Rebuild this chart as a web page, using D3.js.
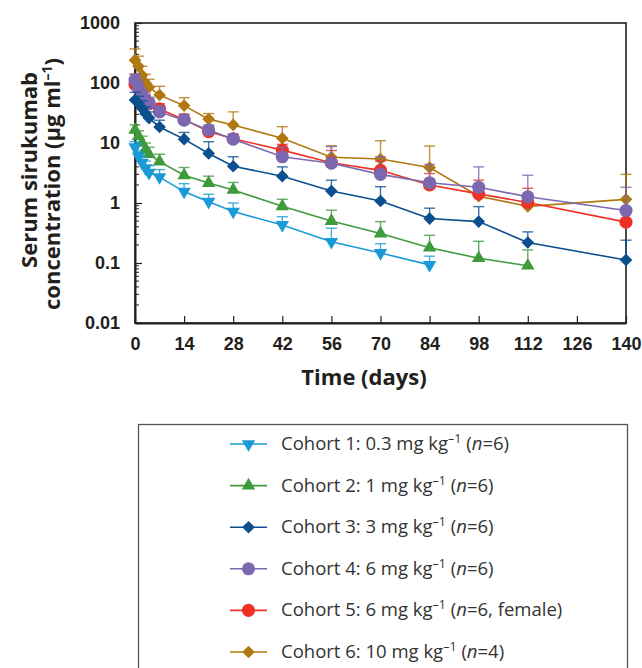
<!DOCTYPE html>
<html>
  <head>
    <meta charset="utf-8">
    <title>Serum sirukumab concentration</title>
    <script src="https://cdn.jsdelivr.net/npm/d3@7"></script>
    <style>
      body { margin: 0; background: #fff; }
      svg { font-family: Lato, "Open Sans", sans-serif; }
      .tick text { font-weight: 700; font-size: 18px; fill: #231f20; }
      .axisTitle { font-family: "Open Sans", sans-serif; font-weight: 700; font-size: 22px; fill: #231f20; }
      .legendText { font-family: "Open Sans", sans-serif; font-size: 18.5px; fill: #333; }
    </style>
  </head>
  <body>
    <svg id="chart" width="642" height="668"></svg>
    <script>
      // sampling days
      var days = [0, 1, 2, 3, 4, 7, 14, 21, 28, 42, 56, 70, 84, 98, 112, 140];
      var xTicks = [0, 14, 28, 42, 56, 70, 84, 98, 112, 126, 140];
      var yTicks = [0.01, 0.1, 1, 10, 100, 1000];
      // mean concentrations (µg/ml), one per day
      var c1Mean = [8.5, 6, 4.7, 3.8, 3.2, 2.7, 1.55, 1.05, 0.72, 0.43, 0.226, 0.147, 0.093];
      var c2Mean = [16.5, 13, 10, 7.8, 6.5, 4.9, 2.9, 2.15, 1.65, 0.88, 0.5, 0.31, 0.18, 0.12, 0.09];
      var c3Mean = [52, 46, 38, 31, 26, 18.5, 11.6, 6.7, 4.1, 2.8, 1.58, 1.08, 0.55, 0.49, 0.22, 0.112];
      var c4Mean = [112, 83, 63, 52, 46, 33, 24, 16.5, 11.6, 5.9, 4.6, 3.0, 2.18, 1.83, 1.27, 0.75];
      var c5Mean = [95, 80, 62, 50, 45, 37, 24.5, 15.5, 11.8, 7.6, 4.7, 3.5, 2.0, 1.42, 1.02, 0.48];
      var c6Mean = [240, 190, 135, 100, 85, 63, 42, 25, 20, 12, 5.8, 5.4, 3.9, 1.3, 0.88, 1.15];
      // mean + SD (upper end of error bar), null = no bar
      var c1Upper = [10.5, 7.5, 6, 5, 4.2, 3.6, 2.1, 1.4, 1.0, 0.59, 0.38, 0.21, 0.13];
      var c2Upper = [20, 16, 13, 10, 8.5, 6.5, 3.9, 2.8, 2.2, 1.15, 0.76, 0.49, 0.29, 0.23, 0.165];
      var c3Upper = [70, 60, 50, 40, 33, 24, 15, 10.5, 5.9, 4.0, 2.4, 1.87, 0.82, 0.87, 0.33, 0.24];
      var c4Upper = [140, 105, 80, 65, 58, 42, 30, 20, 14, 8.5, 8.7, 5.9, 4.4, 4.0, 2.9, 1.83];
      var c5Upper = [140, 100, 78, 62, 55, 45, 30, 19, 14, 9.5, 7.5, 5.0, 3.1, 2.4, 1.76, null];
      var c6Upper = [370, 280, 190, 140, 115, 88, 57, 31, 33, 18.7, 9.0, 10.9, 8.9, null, null, 3.0];
      var cohortNames = ["Cohort 1: 0.3 mg kg", "Cohort 2: 1 mg kg", "Cohort 3: 3 mg kg",
        "Cohort 4: 6 mg kg", "Cohort 5: 6 mg kg", "Cohort 6: 10 mg kg"];
      var cohortN = ["=6)", "=6)", "=6)", "=6)", "=6, female)", "=4)"];
      var colors = ["#1a9bd7", "#3f9a3c", "#0b4f8f", "#7c68b0", "#ee3124", "#b07812"];
      var shapes = ["down", "up", "diamond", "circle", "circle", "diamond"];

      var series = [c1Mean, c2Mean, c3Mean, c4Mean, c5Mean, c6Mean].map(function(m, i) {
        var up = [c1Upper, c2Upper, c3Upper, c4Upper, c5Upper, c6Upper][i];
        return {
          id: i,
          color: colors[i],
          shape: shapes[i],
          points: m.map(function(v, j) { return { day: days[j], value: v, upper: up[j] }; })
        };
      });

      var margin = { top: 23, right: 16, bottom: 345, left: 135 };
      var width = 642, height = 668;
      var chart = d3.select("#chart");

      var x = d3.scaleLinear().domain([0, 140]).range([margin.left, width - margin.right]);
      var y = d3.scaleLog().domain([0.01, 1000]).range([height - margin.bottom, margin.top]);

      function symbolPath(shape) {
        if (shape == "circle") return d3.symbol(d3.symbolCircle, 135)();
        if (shape == "diamond") return d3.symbol(d3.symbolSquare, 80)();
        return d3.symbol(d3.symbolTriangle, 78)();
      }
      function symbolRotate(shape) {
        if (shape == "diamond") return 45;
        if (shape == "down") return 180;
        return 0;
      }

      // frame
      chart.append("rect")
        .attr("x", x(0)).attr("y", y(1000))
        .attr("width", x(140) - x(0)).attr("height", y(0.01) - y(1000))
        .attr("fill", "none").attr("stroke", "#231f20").attr("stroke-width", 1.6);

      // minor y ticks
      var minor = [];
      [0.01, 0.1, 1, 10, 100].forEach(function(d) {
        for (var k = 2; k <= 9; k++) minor.push(d * k);
      });
      chart.append("g").selectAll("line")
        .data(minor)
        .enter().append("line")
          .attr("x1", x(0)).attr("x2", x(0) + 4)
          .attr("y1", function(d) { return y(d); })
          .attr("y2", function(d) { return y(d); })
          .attr("stroke", "#231f20").attr("stroke-width", 1);

      // axes
      var yAxis = d3.axisLeft(y)
        .tickValues(yTicks)
        .tickFormat(function(d) { return d3.format("~g")(d); })
        .tickSizeInner(-7)
        .tickSizeOuter(0)
        .tickPadding(15);
      chart.append("g")
        .attr("transform", "translate(" + x(0) + ",0)")
        .call(yAxis)
        .call(function(g) {
          g.select(".domain").attr("stroke", "#231f20").attr("stroke-width", 2);
          g.selectAll(".tick line").attr("stroke", "#231f20").attr("stroke-width", 1.2);
          g.selectAll(".tick text").attr("fill", "#231f20");
        });
      var xAxis = d3.axisBottom(x)
        .tickValues(xTicks)
        .tickSizeInner(-7)
        .tickSizeOuter(0)
        .tickPadding(14);
      chart.append("g")
        .attr("transform", "translate(0," + y(0.01) + ")")
        .call(xAxis)
        .call(function(g) {
          g.select(".domain").attr("stroke", "#231f20").attr("stroke-width", 2);
          g.selectAll(".tick line").attr("stroke", "#231f20").attr("stroke-width", 1.2);
          g.selectAll(".tick text").attr("fill", "#231f20");
        });

      // axis titles
      chart.append("text")
        .attr("class", "axisTitle")
        .attr("x", 364).attr("y", 385)
        .attr("text-anchor", "middle")
        .text("Time (days)");
      var yTitle = chart.append("text")
        .attr("class", "axisTitle")
        .attr("transform", "translate(37,176) rotate(-90)")
        .attr("text-anchor", "middle");
      yTitle.append("tspan").attr("x", 6).attr("y", 0).text("Serum sirukumab");
      yTitle.append("tspan").attr("x", -8).attr("y", 23).text("concentration (µg ml");
      yTitle.append("tspan").attr("dy", -8).style("font-size", "14px").text("–1");
      yTitle.append("tspan").attr("dy", 8).text(")");

      // series
      var line = d3.line()
        .x(function(d) { return x(d.day); })
        .y(function(d) { return y(d.value); });
      var drawOrder = series.slice().reverse();
      var groups = chart.append("g").selectAll("g")
        .data(drawOrder)
        .enter().append("g");
      groups.append("path")
        .attr("d", function(d) { return line(d.points); })
        .attr("fill", "none")
        .attr("stroke", function(d) { return d.color; })
        .attr("stroke-width", 1.6);
      groups.each(function(s) {
        var g = d3.select(this);
        var bars = s.points.filter(function(p) { return p.upper != null; });
        g.selectAll(".err")
          .data(bars)
          .enter().append("line")
            .attr("x1", function(p) { return x(p.day); })
            .attr("x2", function(p) { return x(p.day); })
            .attr("y1", function(p) { return y(p.value); })
            .attr("y2", function(p) { return y(p.upper); })
            .attr("stroke", s.color).attr("stroke-opacity", 0.8).attr("stroke-width", 1.4);
        g.selectAll(".cap")
          .data(bars)
          .enter().append("line")
            .attr("x1", function(p) { return x(p.day) - 5.5; })
            .attr("x2", function(p) { return x(p.day) + 5.5; })
            .attr("y1", function(p) { return y(p.upper); })
            .attr("y2", function(p) { return y(p.upper); })
            .attr("stroke", s.color).attr("stroke-opacity", 0.8).attr("stroke-width", 1.4);
      });
      groups.each(function(s) {
        d3.select(this).selectAll(".mark")
          .data(s.points)
          .enter().append("path")
            .attr("d", symbolPath(s.shape))
            .attr("transform", function(p) {
              return "translate(" + x(p.day) + "," + y(p.value) + ") rotate(" + symbolRotate(s.shape) + ")";
            })
            .attr("fill", s.color);
      });

      // legend
      var legend = chart.append("g");
      legend.append("rect")
        .attr("x", 138.5).attr("y", 424.5)
        .attr("width", 489).attr("height", 260)
        .attr("fill", "none").attr("stroke", "#555").attr("stroke-width", 1.3);
      var items = legend.selectAll(".item")
        .data(series)
        .enter().append("g")
          .attr("transform", function(d, i) { return "translate(0," + (444 + i * 41.6) + ")"; });
      items.append("line")
        .attr("x1", 230).attr("x2", 267).attr("y1", 0).attr("y2", 0)
        .attr("stroke", function(d) { return d.color; }).attr("stroke-width", 1.6);
      items.append("path")
        .attr("d", function(d) { return symbolPath(d.shape); })
        .attr("transform", function(d) { return "translate(248.5,0) rotate(" + symbolRotate(d.shape) + ")"; })
        .attr("fill", function(d) { return d.color; });
      var labels = items.append("text")
        .attr("class", "legendText")
        .attr("x", 281).attr("y", 6);
      labels.append("tspan").text(function(d, i) { return cohortNames[i]; });
      labels.append("tspan").attr("dy", -7).style("font-size", "12.5px").text("–1");
      labels.append("tspan").attr("dy", 7).text(" (");
      labels.append("tspan").style("font-style", "italic").text("n");
      labels.append("tspan").text(function(d, i) { return cohortN[i]; });
    </script>
  </body>
</html>
